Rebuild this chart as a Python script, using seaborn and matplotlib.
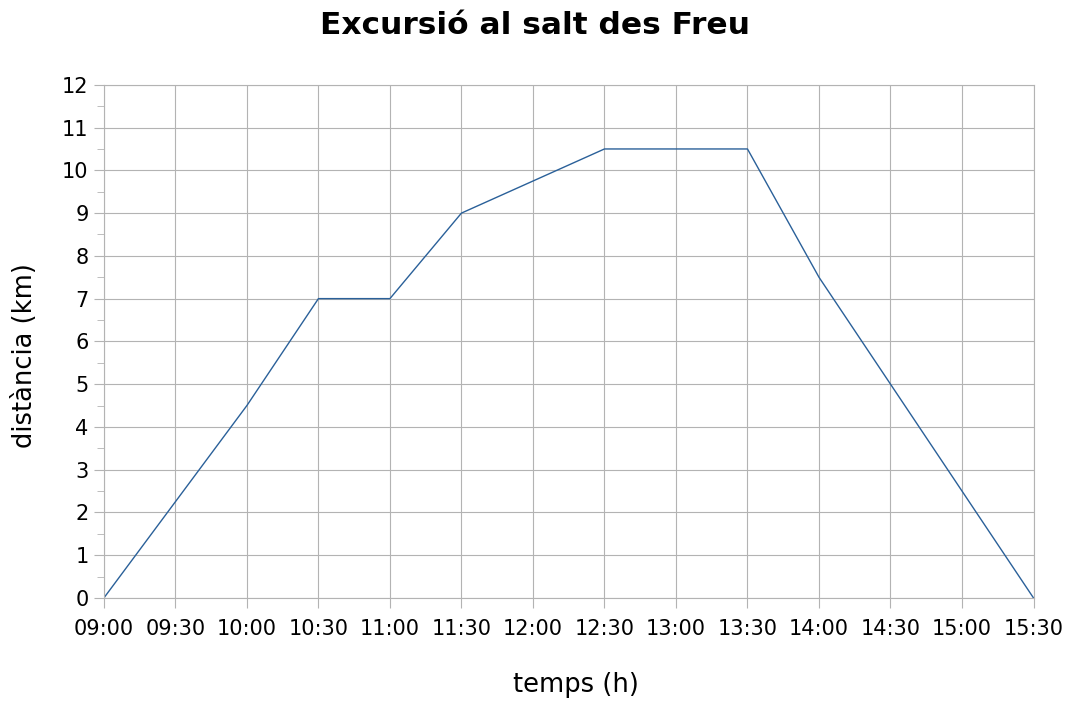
import seaborn as sns
import matplotlib.pyplot as plt
import pandas as pd
from matplotlib.ticker import MultipleLocator

temps = ['09:00', '09:30', '10:00', '10:30', '11:00', '11:30', '12:00',
         '12:30', '13:00', '13:30', '14:00', '14:30', '15:00', '15:30']
distancia = [0, 2.25, 4.5, 7, 7, 9, 9.75, 10.5, 10.5, 10.5, 7.5, 5, 2.5, 0]

df = pd.DataFrame({'temps': temps, 'distancia': distancia})

sns.set_style('white')
plt.rcParams['font.family'] = ['DejaVu Sans']
plt.rcParams['text.color'] = 'black'
plt.rcParams['axes.labelcolor'] = 'black'
plt.rcParams['xtick.color'] = 'black'
plt.rcParams['ytick.color'] = 'black'

fig = plt.figure(figsize=(10.71, 7.01), dpi=100)
ax = fig.add_axes([0.097, 0.147, 0.868, 0.732])

sns.lineplot(data=df, x='temps', y='distancia', color='#2a6099', linewidth=1, ax=ax)

ax.set_xlim(0, len(temps) - 1)
ax.set_ylim(0, 12)
ax.yaxis.set_major_locator(MultipleLocator(1))
ax.yaxis.set_minor_locator(MultipleLocator(0.5))
ax.set_axisbelow(True)
ax.grid(True, which='major', color='#b3b3b3', linewidth=0.8)
for s in ax.spines.values():
    s.set_color('#b3b3b3')
    s.set_linewidth(0.8)
ax.tick_params(axis='both', which='major', length=7, color='#b3b3b3',
               labelcolor='black', labelsize=15, direction='out', pad=4,
               left=True, bottom=True)
ax.tick_params(axis='x', which='major', pad=8)
ax.tick_params(axis='y', which='minor', length=5, color='#b3b3b3', left=True)

ax.set_xlabel('temps (h)', fontsize=18.5)
ax.set_ylabel('distància (km)', fontsize=18.5)
ax.xaxis.set_label_coords(0.508, -0.144)
ax.yaxis.set_label_coords(-0.071, 0.472)
fig.suptitle('Excursió al salt des Freu', fontsize=22.5, fontweight='bold', y=0.985)

fig.savefig('out.png', dpi=100)
